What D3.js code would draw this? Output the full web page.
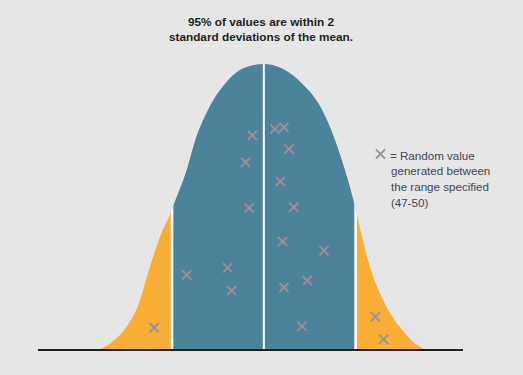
<!DOCTYPE html>
<html>
<head>
<meta charset="utf-8">
<script src="https://cdn.jsdelivr.net/npm/d3@7/dist/d3.min.js"></script>
<style>
  html, body { margin: 0; padding: 0; background: #e6e6e7; }
  svg { display: block; }
</style>
</head>
<body>
<script>
// Curve of the bell (x in standard deviations from the mean, y relative height)
const curveX = [-3.55, -3.25, -2.99, -2.75, -2.48, -2.23, -2.03, -1.98, -1.68, -1.47, -1.32, -1.10, -0.81, -0.45, 0, 0.39, 0.83, 1.19, 1.44, 1.70, 1.95, 2.02, 2.31, 2.60, 2.96, 3.40, 3.50];
const curveY = [0, 0.032, 0.078, 0.148, 0.289, 0.407, 0.477, 0.499, 0.628, 0.745, 0.804, 0.874, 0.938, 0.985, 1, 0.985, 0.932, 0.862, 0.78, 0.663, 0.523, 0.476, 0.289, 0.172, 0.078, 0.008, 0];

// Random sample marks
const markX = [-2.39, -1.68, -0.79, -0.70, -0.25, -0.40, -0.32, 0.24, 0.44, 0.55, 0.36, 0.65, 0.41, 1.31, 0.95, 0.44, 0.83, 2.43, 2.61];
const markY = [0.075, 0.260, 0.285, 0.205, 0.750, 0.655, 0.495, 0.772, 0.778, 0.702, 0.588, 0.498, 0.377, 0.345, 0.240, 0.216, 0.080, 0.113, 0.034];

// Region boundaries (standard deviations)
const bounds = [-2, 0, 2];

const titleLines = ["95% of values are within 2", "standard deviations of the mean."];
const legendLines = ["= Random value", "generated between", "the range specified", "(47-50)"];

const W = 523, H = 375;
const svg = d3.select("body").append("svg").attr("width", W).attr("height", H);
svg.append("rect").attr("width", W).attr("height", H).attr("fill", "#e6e6e7");

const x = d3.scaleLinear().domain([-4.92, 4.34]).range([38, 463]);
const y = d3.scaleLinear().domain([0, 1]).range([349, 64]);

const pts = curveX.map((v, i) => [v, curveY[i]]);
const area = d3.area()
  .x(d => x(d[0]))
  .y0(y(0))
  .y1(d => y(d[1]))
  .curve(d3.curveMonotoneX);

const defs = svg.append("defs");
const regions = [
  { id: "cl", from: -4.92, to: -2, color: "#f9ae35" },
  { id: "cm", from: -2, to: 2, color: "#4b839a" },
  { id: "cr", from: 2, to: 4.34, color: "#f9ae35" }
];
regions.forEach(r => {
  defs.append("clipPath").attr("id", r.id)
    .append("rect")
    .attr("x", x(r.from)).attr("y", 0)
    .attr("width", x(r.to) - x(r.from)).attr("height", H);
});
defs.append("clipPath").attr("id", "bell").append("path").attr("d", area(pts));

regions.forEach(r => {
  svg.append("path")
    .attr("d", area(pts))
    .attr("fill", r.color)
    .attr("clip-path", `url(#${r.id})`);
});

// white separators
svg.append("g").attr("clip-path", "url(#bell)")
  .selectAll("line").data(bounds).join("line")
  .attr("x1", d => x(d)).attr("x2", d => x(d))
  .attr("y1", y(0)).attr("y2", y(1) - 2)
  .attr("stroke", "#ffffff")
  .attr("stroke-width", (d) => d === 0 ? 2 : 2.6);

// baseline
svg.append("line")
  .attr("x1", x.range()[0]).attr("x2", x.range()[1])
  .attr("y1", 350).attr("y2", 350)
  .attr("stroke", "#231f20").attr("stroke-width", 2);

// x marks
const markColor = "#9d8e9b";
function cross(g, cx, cy) {
  const s = 4.6;
  g.append("path")
    .attr("d", `M${cx - s},${cy - s}L${cx + s},${cy + s}M${cx - s},${cy + s}L${cx + s},${cy - s}`)
    .attr("stroke", markColor)
    .attr("stroke-width", 1.9)
    .attr("stroke-linecap", "butt")
    .attr("fill", "none");
}
const marksG = svg.append("g");
markX.forEach((v, i) => cross(marksG, x(v), y(markY[i])));

// title
svg.append("text")
  .attr("x", 261).attr("y", 26)
  .attr("text-anchor", "middle")
  .attr("font-family", "Liberation Sans, Arial, sans-serif")
  .attr("font-weight", "bold")
  .attr("font-size", 11.8)
  .attr("fill", "#231f20")
  .selectAll("tspan").data(titleLines).join("tspan")
  .attr("x", 261).attr("dy", (d, i) => i === 0 ? 0 : 14.5)
  .text(d => d);

// legend
const lg = svg.append("g");
cross(lg, 380.5, 154);
lg.append("text")
  .attr("font-family", "Liberation Sans, Arial, sans-serif")
  .attr("font-size", 11.6)
  .attr("fill", "#3f4656")
  .selectAll("tspan").data(legendLines).join("tspan")
  .attr("x", (d, i) => i === 0 ? 390 : 391)
  .attr("y", (d, i) => 159.5 + i * 15.7)
  .text(d => d);
</script>
</body>
</html>
